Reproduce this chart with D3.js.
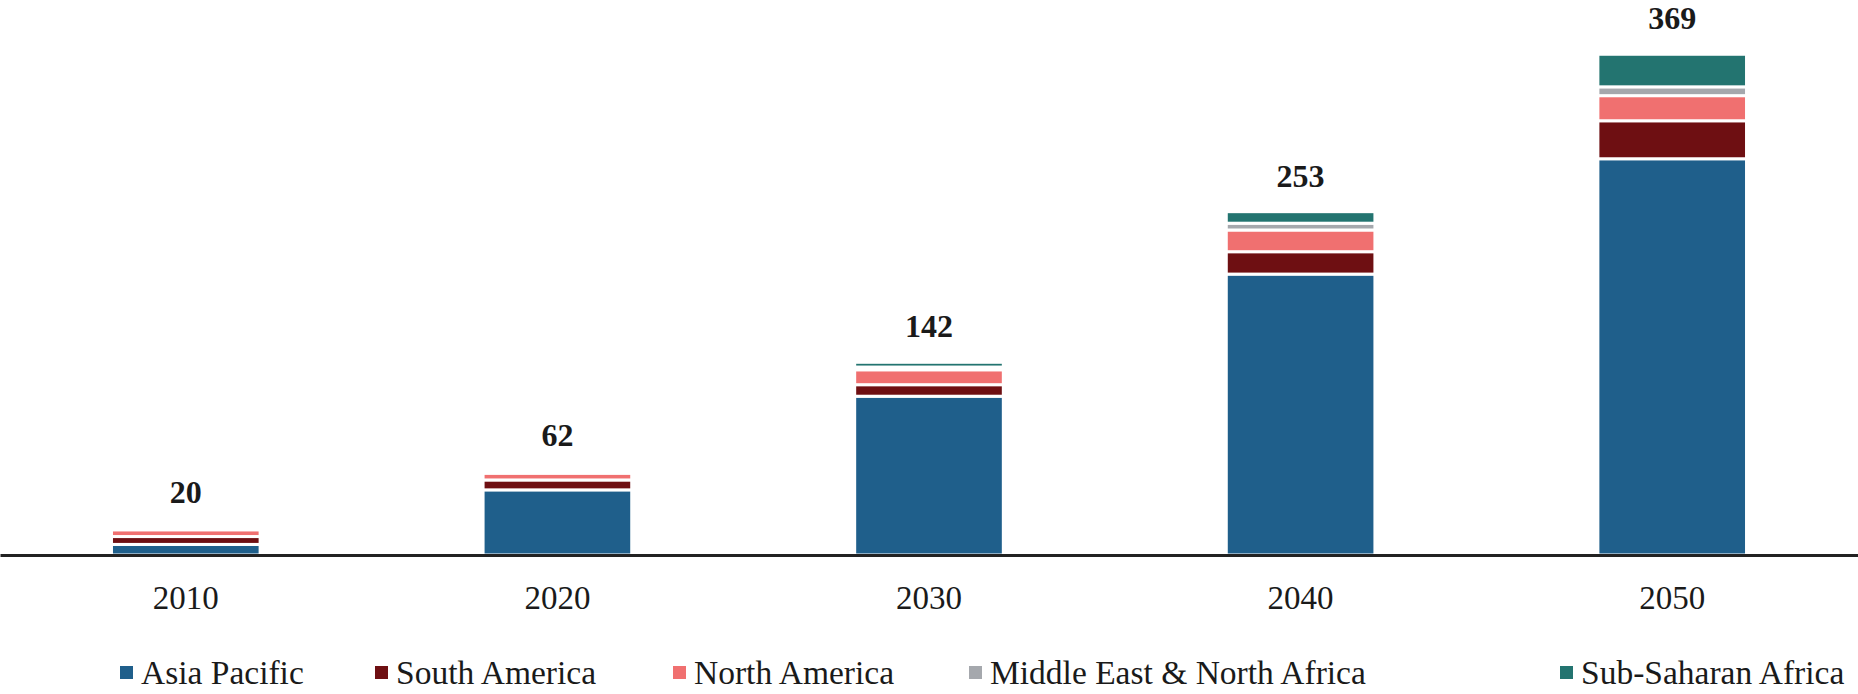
<!DOCTYPE html>
<html>
<head>
<meta charset="utf-8">
<script src="https://cdn.jsdelivr.net/npm/d3@7"></script>
<style>
  body { margin: 0; background: #fff; }
  svg { display: block; }
</style>
</head>
<body>
<svg id="chart"></svg>
<script>
// data
const years = ["2010", "2020", "2030", "2040", "2050"];
const regions = ["Asia Pacific", "South America", "North America", "Middle East & North Africa", "Sub-Saharan Africa"];
const asiaPacific = [7.8, 48, 117, 207, 292];
const southAmerica = [5.8, 7.3, 8.5, 16.5, 28];
const northAmerica = [5.0, 5.0, 11, 16, 18.5];
const middleEast = [0.7, 0.8, 2.0, 5, 6.5];
const subSaharan = [0.7, 0.9, 3.5, 8.5, 24];
const totals = [20, 62, 142, 253, 369];
const colors = ["#1f5f8b", "#6e0f12", "#f07070", "#a5a8ad", "#237470"];

const width = 1858, height = 694;
const margin = {top: 12, bottom: 139};

const table = years.map((yr, i) => ({
  year: yr,
  "Asia Pacific": asiaPacific[i],
  "South America": southAmerica[i],
  "North America": northAmerica[i],
  "Middle East & North Africa": middleEast[i],
  "Sub-Saharan Africa": subSaharan[i],
  total: totals[i]
}));

const svg = d3.select("#chart")
  .attr("width", width)
  .attr("height", height)
  .attr("viewBox", [0, 0, width, height]);

let x = d3.scaleBand()
  .domain(years)
  .range([0, width])
  .paddingInner(0.6)
  .paddingOuter(0.3);

let y = d3.scaleLinear()
  .domain([0, 400])
  .range([height - margin.bottom, height - margin.bottom - 400 * 1.357]);

const color = d3.scaleOrdinal().domain(regions).range(colors);

const series = d3.stack().keys(regions)(table);

svg.append("g")
  .selectAll("g")
  .data(series)
  .join("g")
    .attr("fill", d => color(d.key))
  .selectAll("rect")
  .data(d => d)
  .join("rect")
    .attr("x", d => x(d.data.year))
    .attr("y", d => y(d[1]))
    .attr("height", d => y(d[0]) - y(d[1]))
    .attr("width", x.bandwidth())
    .attr("stroke", "#fff")
    .attr("stroke-width", 3);

// totals above bars
svg.append("g")
  .selectAll("text")
  .data(table)
  .join("text")
    .attr("x", d => x(d.year) + x.bandwidth() / 2)
    .attr("y", d => y(d.total) - 25)
    .attr("text-anchor", "middle")
    .attr("font-family", "'Liberation Serif', 'Times New Roman', serif")
    .attr("font-weight", "bold")
    .attr("font-size", 32)
    .attr("fill", "#1a1a1a")
    .text(d => d.total);

// x axis
svg.append("g")
  .attr("transform", `translate(0,${y(0)})`)
  .call(d3.axisBottom(x).tickSize(0).tickPadding(0))
  .call(g => g.select(".domain").attr("stroke", "#222").attr("stroke-width", 3))
  .call(g => g.selectAll(".tick text")
    .attr("dy", null)
    .attr("y", 54)
    .attr("font-family", "'Liberation Serif', 'Times New Roman', serif")
    .attr("font-size", 33)
    .attr("fill", "#1a1a1a"));

// legend
const legendX = [120, 375, 673, 969, 1560];
const legend = svg.append("g")
  .selectAll("g")
  .data(regions)
  .join("g")
    .attr("transform", (d, i) => `translate(${legendX[i]},${height - 21})`);

legend.append("rect")
  .attr("x", 0)
  .attr("y", -7)
  .attr("width", 13)
  .attr("height", 13)
  .attr("fill", d => color(d));

legend.append("text")
  .attr("x", 21)
  .attr("y", 11)
  .attr("font-family", "'Liberation Serif', 'Times New Roman', serif")
  .attr("font-size", 33.5)
  .attr("fill", "#1a1a1a")
  .text(d => d);
</script>
</body>
</html>
